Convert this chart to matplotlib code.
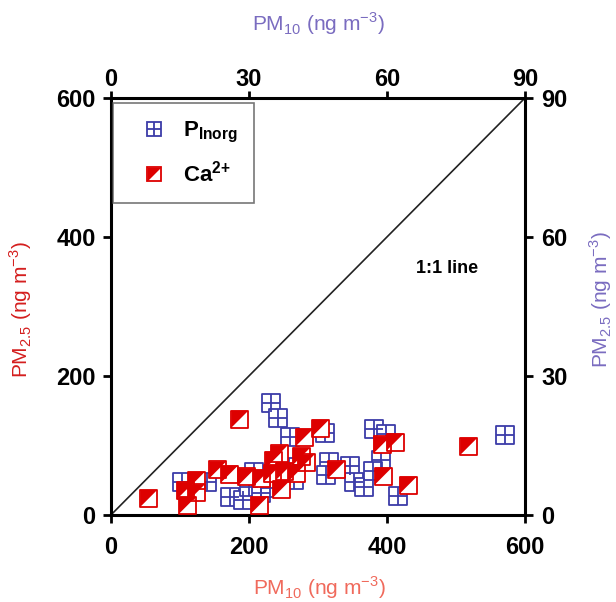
import matplotlib.pyplot as plt
from matplotlib.lines import Line2D
import numpy as np

plt.rcParams['font.family'] = ['Liberation Sans', 'DejaVu Sans']
plt.rcParams['mathtext.fontset'] = 'custom'
plt.rcParams['mathtext.rm'] = 'Liberation Sans'
plt.rcParams['mathtext.bf'] = 'Liberation Sans:bold'

# Ca2+ (eje inferior / izquierdo, 0-600)
ca_pm10 = [55, 108, 111, 124, 124, 155, 172, 187, 197, 215, 218, 236, 244, 234,
           247, 252, 269, 276, 283, 281, 304, 327, 393, 412, 395, 431, 519]
ca_pm25 = [24, 35, 14, 50, 32, 65, 59, 138, 55, 14, 53, 79, 88, 60,
           37, 63, 60, 84, 75, 112, 125, 65, 101, 105, 56, 43, 99]

# P inorganico (eje superior / derecho, 0-90)
p_pm10 = [15.4, 21.0, 25.8, 28.8, 30.1, 31.2, 32.7, 34.5, 34.9, 36.4, 39.0, 38.8, 39.9,
          46.6, 47.5, 46.8, 52.0, 52.9, 55.1, 57.3, 59.9, 58.8, 57.0, 62.5, 85.7]
p_pm25 = [7.1, 7.1, 3.9, 3.2, 6.0, 9.3, 4.7, 5.8, 24.2, 20.9, 16.8, 10.4, 7.6,
          17.7, 11.4, 8.6, 10.6, 7.1, 6.0, 18.6, 17.5, 11.9, 9.5, 4.1, 17.3]

ticks_main = [0, 200, 400, 600]
ticks_sec = [0, 30, 60, 90]

rojo = '#dd0000'
azul = '#3c3ca8'
tri = [(-1, -1), (-1, 1), (1, 1), (-1, -1)]  # triangulo superior izquierdo

fig = plt.figure(figsize=(6.16, 6.02), dpi=100)
pos = [0.180, 0.1445, 0.672, 0.6925]
ax2 = fig.add_axes(pos)
ax = fig.add_axes(pos)
ax.patch.set_visible(False)

# eje secundario (P inorg)
ax2.scatter(p_pm10, p_pm25, s=150, marker='s', facecolor='white', edgecolor=azul, linewidth=1.3)
ax2.scatter(p_pm10, p_pm25, s=150, marker='+', color=azul, linewidth=1.3)
ax2.set_xlim(0, 90)
ax2.set_ylim(0, 90)
ax2.xaxis.tick_top()
ax2.yaxis.tick_right()
ax2.set_xticks(ticks_sec)
ax2.set_yticks(ticks_sec)
for s in ax2.spines.values():
    s.set_visible(False)
ax2.tick_params(direction='out', length=6, width=2, labelsize=17)
ax2.tick_params(axis='x', length=5, pad=0)
ax2.tick_params(axis='y', pad=6)
for lab in ax2.get_xticklabels() + ax2.get_yticklabels():
    lab.set_fontweight('bold')

# eje principal (Ca2+)
ax.plot([0, 600], [0, 600], color='#222222', linewidth=1.2)
ax.scatter(ca_pm10, ca_pm25, s=150, marker='s', facecolor='white', edgecolor='none', zorder=3)
ax.scatter(ca_pm10, ca_pm25, s=150, marker=tri, facecolor=rojo, edgecolor='none', zorder=4)
ax.scatter(ca_pm10, ca_pm25, s=150, marker='s', facecolor='none', edgecolor=rojo, linewidth=1.3, zorder=5)
ax.set_xlim(0, 600)
ax.set_ylim(0, 600)
ax.set_xticks(ticks_main)
ax.set_yticks(ticks_main)
ax.tick_params(direction='out', length=6, width=2, labelsize=17)
ax.tick_params(axis='x', pad=9)
ax.tick_params(axis='y', pad=5)
for lab in ax.get_xticklabels() + ax.get_yticklabels():
    lab.set_fontweight('bold')
for s in ax.spines.values():
    s.set_linewidth(2.2)

# titulos de los ejes
fig.text(0.516, 0.960, 'PM$_{10}$ (ng m$^{-3}$)', color='#7a6cc0', fontsize=15, ha='center', va='center')
fig.text(0.519, 0.024, 'PM$_{10}$ (ng m$^{-3}$)', color='#f06a5c', fontsize=15, ha='center', va='center')
fig.text(0.034, 0.485, 'PM$_{2.5}$ (ng m$^{-3}$)', color='#d41e1e', fontsize=15, ha='center', va='center',
         rotation=90)
fig.text(0.975, 0.502, 'PM$_{2.5}$ (ng m$^{-3}$)', color='#7a6cc0', fontsize=15, ha='center', va='center',
         rotation=90)

ax.text(487, 355, '1:1 line', fontsize=13, fontweight='bold', ha='center', va='center')

h_p = (Line2D([], [], marker='s', markersize=10, markerfacecolor='white', markeredgecolor=azul,
              markeredgewidth=1.3, linestyle='none'),
       Line2D([], [], marker='+', markersize=10, color=azul, markeredgewidth=1.3, linestyle='none'))
h_ca = (Line2D([], [], marker=tri, markersize=10, markerfacecolor=rojo, markeredgecolor='none',
               linestyle='none'),
        Line2D([], [], marker='s', markersize=10, markerfacecolor='none', markeredgecolor=rojo,
               markeredgewidth=1.3, linestyle='none'))
leg = ax.legend([h_p, h_ca], [r'$\mathbf{P_{Inorg}}$', r'$\mathbf{Ca^{2{+}}}$'], loc='upper left',
                bbox_to_anchor=(0.005, 0.988), fancybox=False, edgecolor='#555555', fontsize=16,
                borderpad=0.75, labelspacing=0.7, handlelength=2.2, handletextpad=0.2, borderaxespad=0)
leg.get_frame().set_linewidth(1.2)

fig.savefig('out.png', dpi=100)
